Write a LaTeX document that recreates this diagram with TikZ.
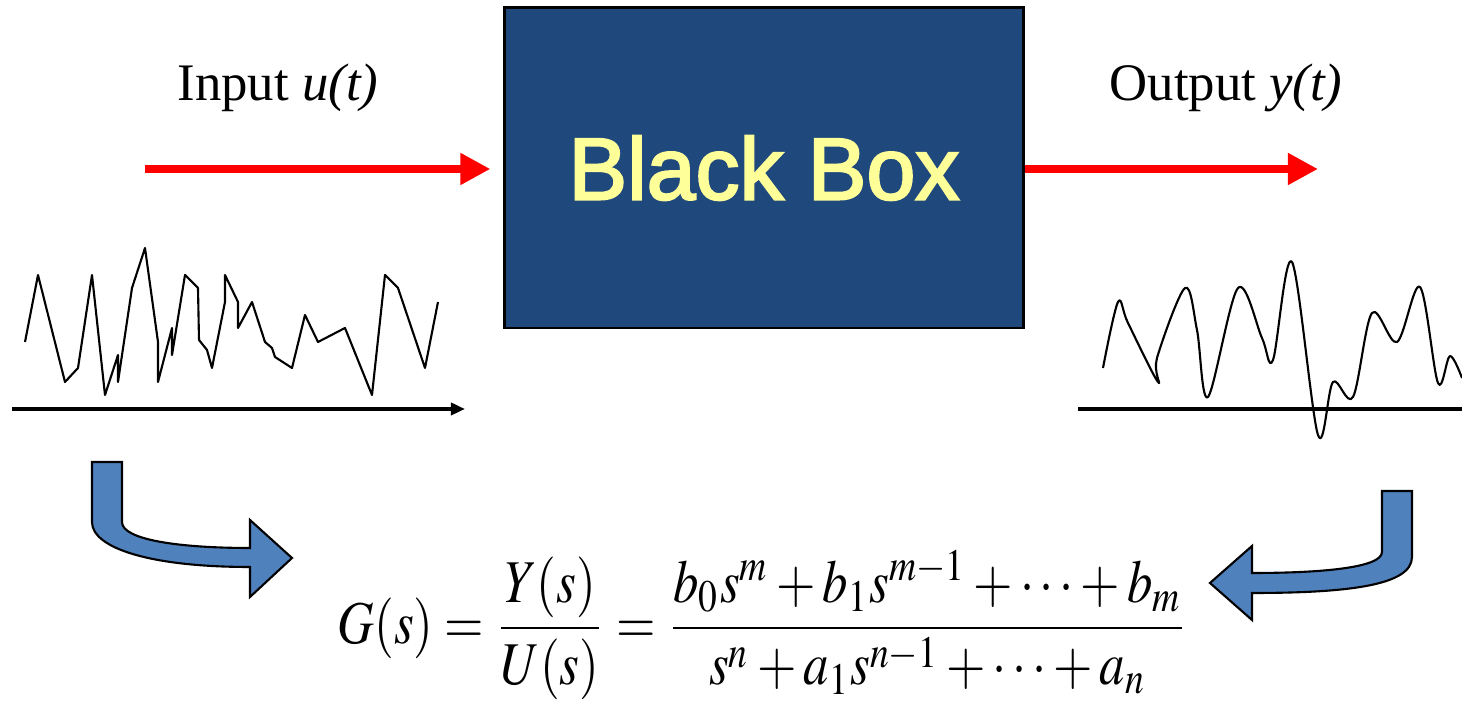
\documentclass[tikz,border=0pt]{standalone}
\usepackage{graphicx}
\usepackage{mathptmx}
\usepackage{fontspec}
\setmainfont{Liberation Serif}
\newfontfamily\boxfont[FakeBold=2.5]{Liberation Sans}
\usetikzlibrary{arrows.meta}

\definecolor{boxblue}{RGB}{31,73,125}
\definecolor{boxyellow}{RGB}{255,255,153}
\definecolor{bendblue}{RGB}{79,129,189}

\begin{document}
\begin{tikzpicture}[
  x=0.01cm, y=-0.01cm,
  iolabel/.style={font=\fontsize{15}{18}\selectfont, inner sep=0pt},
  flow/.style={red, line width=0.075cm, -{Triangle[length=0.3cm, width=0.3cm]}},
  axisline/.style={black, line width=0.035cm},
  signal/.style={black, line width=0.6pt, line join=round},
  bendarrow/.style={fill=bendblue, draw=black, line width=0.6pt},
]
\useasboundingbox (0,0) rectangle (1462,704);

% === Black box with input and output ===
\node[draw=black, line width=0.8pt, fill=boxblue, minimum width=5.18cm, minimum height=3.2cm,
  text=boxyellow, font=\boxfont\fontsize{25}{30}\selectfont] (box) at (764,168) {Black Box};
\node[iolabel] (inlabel) at (278,88) {Input \textit{u(t)}};
\node[iolabel] (outlabel) at (1226,88) {Output \textit{y(t)}};
\coordinate (inStart) at (145,169);
\coordinate (outEnd) at (1318,169);
\draw[flow, shorten >=0.13cm] (inStart) -- (box.west |- inStart);
\draw[flow] (box.east |- outEnd) -- (outEnd);

% === Input signal ===
\coordinate (inAxisL) at (12,409);
\coordinate (inAxisR) at (465,409);
\draw[axisline, -{Triangle[length=0.14cm, width=0.12cm]}] (inAxisL) -- (inAxisR);
\draw[signal] plot coordinates {(25,342) (38,275) (65,382) (78,368) (92,275) (105,395) (118,355)
  (118,382) (132,288) (145,248) (158,342) (158,382) (172,328) (172,355) (185,275) (198,288)
  (199,340) (207,350) (212,368) (225,302) (225,275) (238,302) (238,328) (252,302) (265,342)
  (272,348) (275,357) (292,368) (305,315) (318,342) (345,328) (372,395) (385,275) (398,288)
  (425,368) (438,302)};

% === Output signal ===
\coordinate (outAxisL) at (1078,409);
\coordinate (outAxisR) at (1462,409);
\draw[axisline, line width=0.04cm] (outAxisL) -- (outAxisR);
\draw[signal] plot[smooth, tension=0.55] coordinates {(1103,368) (1118,302) (1128,323) (1158,382)
  (1157,358) (1185,288) (1197,330) (1208,397) (1238,288) (1262,338) (1273,360) (1292,262)
  (1318,435) (1333,382) (1353,397) (1372,313) (1397,342) (1420,287) (1438,383) (1450,356)
  (1462,378)};

% === Bent arrows into the formula ===
\draw[bendarrow] (92,462) -- (122,462) -- (122,522) .. controls (122,540) and (180,548) .. (250,548)
  -- (250,520) -- (292,558) -- (250,597) -- (250,567) .. controls (150,567) and (92,548) .. (92,522) -- cycle;
\draw[bendarrow] (1412,491) -- (1382,491) -- (1382,552) .. controls (1382,568) and (1320,573) .. (1252,573)
  -- (1252,546) -- (1210,583) -- (1252,620) -- (1252,593) .. controls (1350,593) and (1412,585) .. (1412,557) -- cycle;

% === Transfer function ===
\node[inner sep=0pt] (tf) at (763,625) {\resizebox*{8.5cm}{1.5cm}{$\displaystyle
  G(s)=\frac{Y(s)}{U(s)}=\frac{b_0s^m+b_1s^{m-1}+\cdots+b_m}{s^n+a_1s^{n-1}+\cdots+a_n}$}};

\end{tikzpicture}
\end{document}
